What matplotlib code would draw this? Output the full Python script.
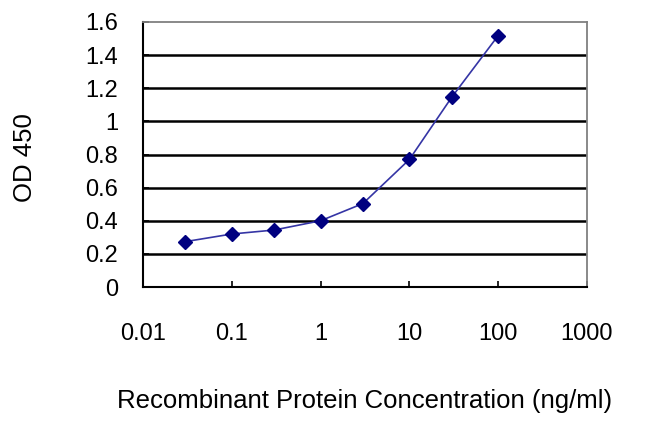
import matplotlib
matplotlib.use("Agg")
import matplotlib.pyplot as plt

concentration = [0.03, 0.1, 0.3, 1, 3, 10, 30, 100]
od450 = [0.274, 0.32, 0.344, 0.40, 0.504, 0.77, 1.146, 1.518]
x_ticks = [0.01, 0.1, 1, 10, 100, 1000]
x_tick_labels = ["0.01", "0.1", "1", "10", "100", "1000"]
y_ticks = [0, 0.2, 0.4, 0.6, 0.8, 1.0, 1.2, 1.4, 1.6]
y_tick_labels = ["0", "0.2", "0.4", "0.6", "0.8", "1", "1.2", "1.4", "1.6"]

plt.rcParams['font.family'] = ['Liberation Sans', 'DejaVu Sans']

fig = plt.figure(figsize=(6.5, 4.33), dpi=100)
ax = fig.add_axes([143/650, 1-287/433, 444/650, 265/433])

ax.set_xscale('log')
ax.set_xlim(0.01, 1000)
ax.set_ylim(0, 1.6)

for yv in y_ticks[1:-1]:
    ax.axhline(yv, color='black', lw=1.8, zorder=1)

ax.plot(concentration, od450, color='#3535a5', lw=1.2, zorder=2)
ax.plot(concentration, od450, linestyle='none', marker='D', markersize=7.5,
        color='#000080', zorder=3)

ax.set_xticks(x_ticks)
ax.set_xticklabels(x_tick_labels)
ax.xaxis.set_minor_locator(matplotlib.ticker.NullLocator())
ax.set_yticks(y_ticks)
ax.set_yticklabels(y_tick_labels)

ax.tick_params(axis='x', direction='in', length=4, width=1.2, pad=26,
               labelsize=17, colors='black')
ax.tick_params(axis='y', direction='in', length=4, width=1.2, pad=18,
               labelsize=17, colors='black')

for s in ['left', 'bottom']:
    ax.spines[s].set_color('black')
    ax.spines[s].set_linewidth(1.5)
for s in ['top', 'right']:
    ax.spines[s].set_color('#808080')
    ax.spines[s].set_linewidth(1.3)

ax.set_xlabel("Recombinant Protein Concentration (ng/ml)", fontsize=18.5, va='center')
ax.xaxis.set_label_coords(0.5, (287-401)/265)
ax.set_ylabel("OD 450", fontsize=18.5, va='center')
ax.yaxis.set_label_coords((25-143)/444, (287-158)/265)

fig.savefig("out.png", dpi=100)
